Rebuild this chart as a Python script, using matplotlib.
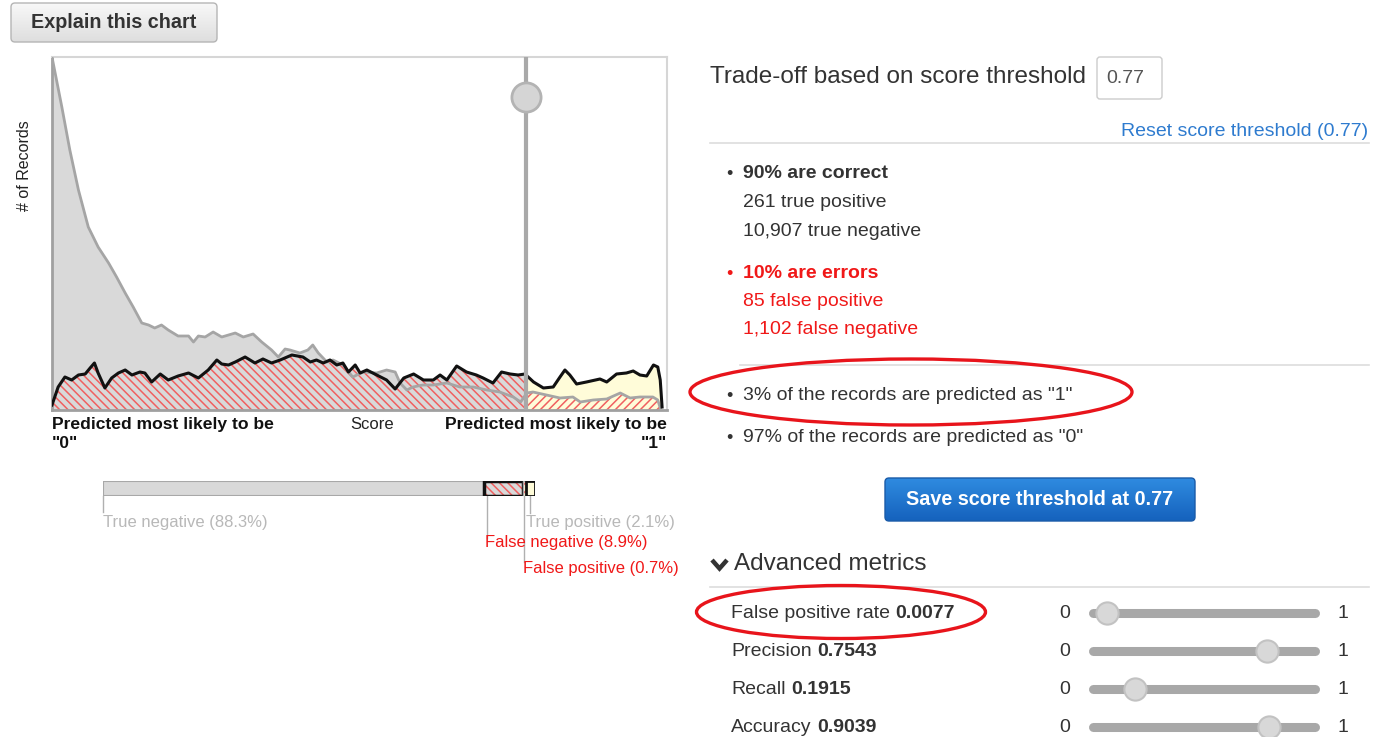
import numpy as np
import matplotlib
matplotlib.use('Agg')
import matplotlib.pyplot as plt
from matplotlib.patches import FancyBboxPatch, Ellipse, Rectangle
from matplotlib.colors import LinearSegmentedColormap

plt.rcParams['font.family'] = ['Liberation Sans', 'DejaVu Sans']
plt.rcParams['hatch.linewidth'] = 1.1

# score distribution of records whose real label is "0" (grey) and "1" (black)
neg_score = [0.000, 0.016, 0.029, 0.043, 0.059, 0.075, 0.092, 0.105, 0.119, 0.132,
             0.146, 0.157, 0.167, 0.178, 0.189, 0.205, 0.222, 0.230, 0.238, 0.249,
             0.262, 0.276, 0.298, 0.311, 0.327, 0.341, 0.357, 0.368, 0.379, 0.387,
             0.403, 0.416, 0.424, 0.433, 0.447, 0.457, 0.473, 0.489, 0.506, 0.528,
             0.544, 0.558, 0.566, 0.577, 0.587, 0.603, 0.620, 0.642, 0.663, 0.685,
             0.707, 0.728, 0.750, 0.762, 0.772, 0.782, 0.804, 0.826, 0.847, 0.859,
             0.880, 0.902, 0.924, 0.940, 0.956, 0.977, 0.985, 0.989]
neg_count = [353, 303, 260, 220, 183, 163, 147, 133, 117, 103,
             87, 85, 82, 85, 80, 74, 74, 68, 74, 73,
             78, 73, 77, 73, 76, 68, 60, 53, 61, 60,
             57, 60, 65, 57, 48, 50, 45, 33, 38, 37,
             40, 38, 27, 20, 23, 25, 25, 27, 23, 23,
             20, 18, 13, 8, 17, 18, 15, 12, 13, 8,
             10, 11, 17, 12, 13, 13, 10, 2]
pos_score = [0.000, 0.010, 0.021, 0.032, 0.043, 0.054, 0.062, 0.069, 0.075, 0.086,
             0.097, 0.108, 0.119, 0.130, 0.143, 0.151, 0.162, 0.176, 0.189, 0.205,
             0.222, 0.238, 0.254, 0.268, 0.276, 0.287, 0.298, 0.314, 0.330, 0.343,
             0.357, 0.371, 0.390, 0.408, 0.420, 0.430, 0.441, 0.452, 0.463, 0.473,
             0.482, 0.493, 0.501, 0.512, 0.528, 0.544, 0.558, 0.572, 0.588, 0.604,
             0.620, 0.631, 0.642, 0.658, 0.674, 0.690, 0.701, 0.717, 0.731, 0.745,
             0.758, 0.769, 0.783, 0.799, 0.815, 0.826, 0.834, 0.842, 0.853, 0.869,
             0.891, 0.902, 0.918, 0.934, 0.945, 0.956, 0.967, 0.978, 0.985, 0.989, 0.992]
pos_count = [5, 23, 33, 30, 35, 36, 42, 47, 37, 22,
             32, 37, 40, 35, 38, 37, 28, 36, 30, 34,
             37, 32, 40, 50, 46, 45, 48, 53, 47, 51,
             47, 50, 55, 53, 48, 50, 47, 50, 45, 47,
             38, 45, 37, 40, 35, 30, 21, 32, 36, 30,
             30, 35, 30, 44, 38, 35, 32, 27, 38, 36,
             35, 36, 28, 22, 23, 33, 40, 35, 26, 28,
             31, 28, 36, 37, 39, 35, 34, 45, 43, 30, 3]
threshold = 0.77

outcome_names = ['True negative', 'False negative', 'False positive', 'True positive']
outcome_share = [88.3, 8.9, 0.7, 2.1]

correct_lines = ['261 true positive', '10,907 true negative']
error_lines = ['85 false positive', '1,102 false negative']
predicted_lines = ['3% of the records are predicted as "1"',
                   '97% of the records are predicted as "0"']
metric_names = ['False positive rate', 'Precision', 'Recall', 'Accuracy']
metric_values = [0.0077, 0.7543, 0.1915, 0.9039]
slider_pos = [0.04, 0.80, 0.17, 0.81]

W, H = 1383, 737
TXT = '#333333'
RED = '#f01818'
HATCH_RED = '#f06060'
YELLOW = '#fffcd9'
LIGHT = '#d9d9d9'
BACK = '\\\\\\\\'   # dense "\" hatch
FWD = '////'

fig = plt.figure(figsize=(W / 100, H / 100), dpi=100)


def px_axes(x0, y0, x1, y1):
    return fig.add_axes([x0 / W, 1 - y1 / H, (x1 - x0) / W, (y1 - y0) / H])


# ---- score histogram ----
ax = px_axes(52, 57, 667, 410)
ax.set_xlim(0, 1)
ax.set_ylim(0, 353)
left_clip = Rectangle((0, 0), threshold, 400, transform=ax.transData)
right_clip = Rectangle((threshold, 0), 1, 400, transform=ax.transData)

tn = ax.fill_between(neg_score, neg_count, facecolor=LIGHT, lw=0, zorder=1)
tn.set_clip_path(left_clip)
fn = ax.fill_between(pos_score, pos_count, facecolor=LIGHT, edgecolor=HATCH_RED,
                     hatch=BACK, lw=0, zorder=2)
fn.set_clip_path(left_clip)
tp = ax.fill_between(pos_score, pos_count, facecolor=YELLOW, lw=0, zorder=1)
tp.set_clip_path(right_clip)
fp = ax.fill_between(neg_score, neg_count, facecolor='none', edgecolor=HATCH_RED,
                     hatch=FWD, lw=0, zorder=2)
fp.set_clip_path(right_clip)

ax.plot(neg_score, neg_count, color='#a5a5a5', lw=2, zorder=3)
ax.plot(pos_score, pos_count, color='#111111', lw=2.2, zorder=4)
ax.axvline(threshold, color='#a9a9a9', lw=3, zorder=5)
ax.plot(threshold, 313, 'o', ms=21, mfc='#d5d5d5', mec='#b3b3b3', mew=2,
        zorder=6, clip_on=False)
ax.set_xticks([])
ax.set_yticks([])
for side in ['top', 'right']:
    ax.spines[side].set_color('#d6d6d6')
    ax.spines[side].set_linewidth(1.5)
for side in ['left', 'bottom']:
    ax.spines[side].set_color('#a0a0a0')
    ax.spines[side].set_linewidth(2)

# ---- confusion bar ----
bx = px_axes(103, 481, 535, 496)
lefts = np.concatenate([[0], np.cumsum(outcome_share)[:-1]])
faces = [LIGHT, LIGHT, YELLOW, YELLOW]
hatches = [None, BACK, FWD, None]
edges = ['#a8a8a8', '#111111', '#a8a8a8', '#111111']
widths = [1.5, 2.5, 1, 2]
for i in range(4):
    bx.barh(0.5, outcome_share[i], left=lefts[i], height=1, color=faces[i],
            edgecolor=HATCH_RED, hatch=hatches[i], lw=0)
    bx.barh(0.5, outcome_share[i], left=lefts[i], height=1, color='none',
            edgecolor=edges[i], lw=widths[i])
bx.set_xlim(0, 100)
bx.set_ylim(0, 1)
bx.axis('off')

tick_x = [lefts[0] + 0.1, lefts[1] + 0.6, lefts[2] + outcome_share[2] / 2,
          lefts[3] + outcome_share[3] / 2]
tick_end = [-1.07, -2.8, -4.4, -1.15]
label_x = [lefts[0], lefts[1] + 0.1, lefts[2], lefts[3]]
label_y = [-1.8, -3.13, -4.8, -1.8]
label_col = ['#b8b8b8', RED, RED, '#b8b8b8']
for i in range(4):
    bx.plot([tick_x[i], tick_x[i]], [0, tick_end[i]], color='#b0b0b0', lw=1,
            clip_on=False, zorder=0)
    bx.text(label_x[i], label_y[i], f'{outcome_names[i]} ({outcome_share[i]}%)',
            color=label_col[i], fontsize=12, va='center', ha='left')

# ---- page overlay in pixel coordinates ----
ui = fig.add_axes([0, 0, 1, 1])
ui.axis('off')


def button(x0, y0, x1, y1, top, bottom, edge):
    box = FancyBboxPatch((x0, y0), x1 - x0, y1 - y0,
                         boxstyle='round,pad=0,rounding_size=4',
                         facecolor='none', edgecolor=edge, lw=1, zorder=3)
    ui.add_patch(box)
    grad = np.linspace(0, 1, 64).reshape(-1, 1)
    cmap = LinearSegmentedColormap.from_list('g', [top, bottom])
    im = ui.imshow(grad, extent=(x0, x1, y1, y0), cmap=cmap, aspect='auto', zorder=2)
    im.set_clip_path(box)


def rich(x, y, normal, bold, size=14, color=TXT):
    t = ui.text(x, y, normal, fontsize=size, color=color, va='center')
    ui.annotate(bold, xy=(1, 0), xycoords=t, xytext=(3.9, 0),
                textcoords='offset points', va='bottom', fontsize=size,
                fontweight='bold', color=color)


button(11, 3, 217, 42, '#f8f8f8', '#dedede', '#b5b5b5')
ui.text(114, 22, 'Explain this chart', fontsize=14.2, fontweight='bold',
        color=TXT, ha='center', va='center', zorder=4)

ui.text(25, 166, '# of Records', rotation=90, fontsize=11.5, color='#222222',
        ha='center', va='center')
ui.text(52, 424, 'Predicted most likely to be', fontsize=12.6, fontweight='bold',
        color='#111111', va='center')
ui.text(52, 443, '"0"', fontsize=12.6, fontweight='bold', color='#111111', va='center')
ui.text(372, 424, 'Score', fontsize=12, color='#222222', ha='center', va='center')
ui.text(667, 424, 'Predicted most likely to be', fontsize=12.6, fontweight='bold',
        color='#111111', ha='right', va='center')
ui.text(667, 443, '"1"', fontsize=12.6, fontweight='bold', color='#111111',
        ha='right', va='center')

# right panel
ui.text(710, 77, 'Trade-off based on score threshold', fontsize=17.5, color=TXT,
        va='center')
ui.add_patch(FancyBboxPatch((1097, 57), 65, 42, boxstyle='round,pad=0,rounding_size=3',
                            facecolor='white', edgecolor='#cccccc', lw=1))
ui.text(1106, 78, f'{threshold}', fontsize=14, color='#555555', va='center')
ui.text(1368, 131, f'Reset score threshold ({threshold})', fontsize=14,
        color='#2e7bcf', ha='right', va='center')
ui.plot([710, 1369], [143, 143], color='#dddddd', lw=1.2)

ui.text(729, 174, '•', fontsize=13, color=TXT, ha='center', va='center')
ui.text(743, 173, '90% are correct', fontsize=14, fontweight='bold', color=TXT,
        va='center')
for i, line in enumerate(correct_lines):
    ui.text(743, 202 + 29 * i, line, fontsize=14, color=TXT, va='center')
ui.text(729, 274, '•', fontsize=13, color=RED, ha='center', va='center')
ui.text(743, 273, '10% are errors', fontsize=14, fontweight='bold', color=RED,
        va='center')
for i, line in enumerate(error_lines):
    ui.text(743, 301 + 28 * i, line, fontsize=14, color=RED, va='center')

ui.plot([740, 1369], [365, 365], color='#dddddd', lw=1.2)
for i, line in enumerate(predicted_lines):
    ui.text(729, 396 + 42 * i, '•', fontsize=13, color=TXT, ha='center', va='center')
    ui.text(743, 395 + 42 * i, line, fontsize=14, color=TXT, va='center')
ui.add_patch(Ellipse((911, 392), 442, 66, fill=False, edgecolor='#e8141b', lw=2.4,
                     zorder=5))

button(885, 478, 1195, 521, '#2f8be0', '#1562bd', '#1a5ba8')
ui.text(1040, 499, f'Save score threshold at {threshold}', fontsize=14.2,
        fontweight='bold', color='white', ha='center', va='center', zorder=4)

ui.plot([712, 719.5, 727], [560, 568.5, 560], color=TXT, lw=3.2,
        solid_capstyle='butt', solid_joinstyle='miter')
ui.text(734, 564, 'Advanced metrics', fontsize=17.5, color=TXT, va='center')
ui.plot([710, 1369], [587, 587], color='#dddddd', lw=1.2)

for i, name in enumerate(metric_names):
    y = 613 + 38 * i
    rich(731, y, name, f'{metric_values[i]:.4f}')
    ui.text(1065, y, '0', fontsize=14, color=TXT, ha='center', va='center')
    ui.text(1343, y, '1', fontsize=14, color=TXT, ha='center', va='center')
    ui.plot([1093, 1315], [y, y], color='#a8a8a8', lw=6.5, solid_capstyle='round')
    ui.plot(1099 + 210 * slider_pos[i], y, 'o', ms=16, mfc='#d8d8d8', mec='#c2c2c2',
            mew=1.5)
ui.add_patch(Ellipse((841, 612), 289, 53, fill=False, edgecolor='#e8141b', lw=2.4,
                     zorder=5))

ui.set_xlim(0, W)
ui.set_ylim(H, 0)

fig.savefig('out.png', dpi=100)
